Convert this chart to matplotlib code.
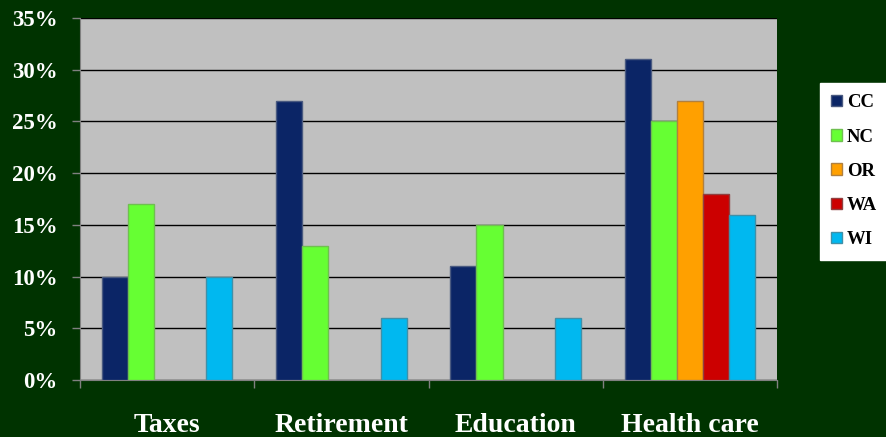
import numpy as np
import matplotlib
matplotlib.use("Agg")
import matplotlib.pyplot as plt
from matplotlib.patches import Patch

categories = ["Taxes", "Retirement", "Education", "Health care"]
series = ["CC", "NC", "OR", "WA", "WI"]
values = {
    "CC": [10, 27, 11, 31],
    "NC": [17, 13, 15, 25],
    "OR": [0, 0, 0, 27],
    "WA": [0, 0, 0, 18],
    "WI": [10, 6, 6, 16],
}
colors = {"CC": "#0b2566", "NC": "#66ff33", "OR": "#ffa000", "WA": "#cc0000", "WI": "#00b8f0"}
edges = {"CC": "#4a5a80", "NC": "#6fbf50", "OR": "#b08040", "WA": "#904040", "WI": "#4090a8"}
yticks = [0, 5, 10, 15, 20, 25, 30, 35]

bg = "#003300"
plt.rcParams["font.family"] = ["Liberation Serif", "DejaVu Serif"]

fig = plt.figure(figsize=(8.86, 4.37), dpi=100, facecolor=bg)
ax = fig.add_axes([0.0903, 0.1304, 0.7867, 0.8284])
ax.set_facecolor("#c0c0c0")

x = np.arange(len(categories))
w = 0.15
for i, s in enumerate(series):
    v = np.array(values[s], dtype=float)
    keep = v > 0  # empty cells are not drawn
    ax.bar(x[keep] + (i - 2) * w, v[keep], w, color=colors[s], edgecolor=edges[s],
           linewidth=1.0, zorder=3)

ax.set_xlim(-0.5, len(categories) - 0.5)
ax.set_ylim(0, 35)
ax.set_yticks(yticks)
ax.set_yticklabels([f"{t}%" for t in yticks], color="white",
                   fontsize=16.5, fontweight="bold")
ax.yaxis.grid(True, color="black", linewidth=1.0, zorder=1)
ax.set_axisbelow(True)

ax.set_xticks(x)
ax.set_xticklabels(categories, color="white", fontsize=20, fontweight="bold")
ax.tick_params(axis="x", length=0, pad=24)
ax.set_xticks(np.arange(-0.5, len(categories)), minor=True)
ax.tick_params(axis="x", which="minor", length=6, color="#808080", width=1)
ax.tick_params(axis="y", length=6, color="#808080", width=1, pad=10)

for side in ["top", "right"]:
    ax.spines[side].set_visible(False)
ax.spines["left"].set_color("#808080")
ax.spines["bottom"].set_color("#808080")

handles = [Patch(facecolor=colors[s], edgecolor=edges[s], label=s) for s in series]
leg = fig.legend(handles=handles, loc="upper left", bbox_to_anchor=(0.9255, 0.81),
                 frameon=True, fancybox=False, edgecolor="white", facecolor="white",
                 framealpha=1, prop={"weight": "bold", "size": 13.5, "family": "Liberation Serif"},
                 handlelength=0.6, handleheight=0.55, handletextpad=0.25,
                 labelspacing=0.92, borderpad=0.6, borderaxespad=0)

fig.savefig("out.png", dpi=100, facecolor=bg)
